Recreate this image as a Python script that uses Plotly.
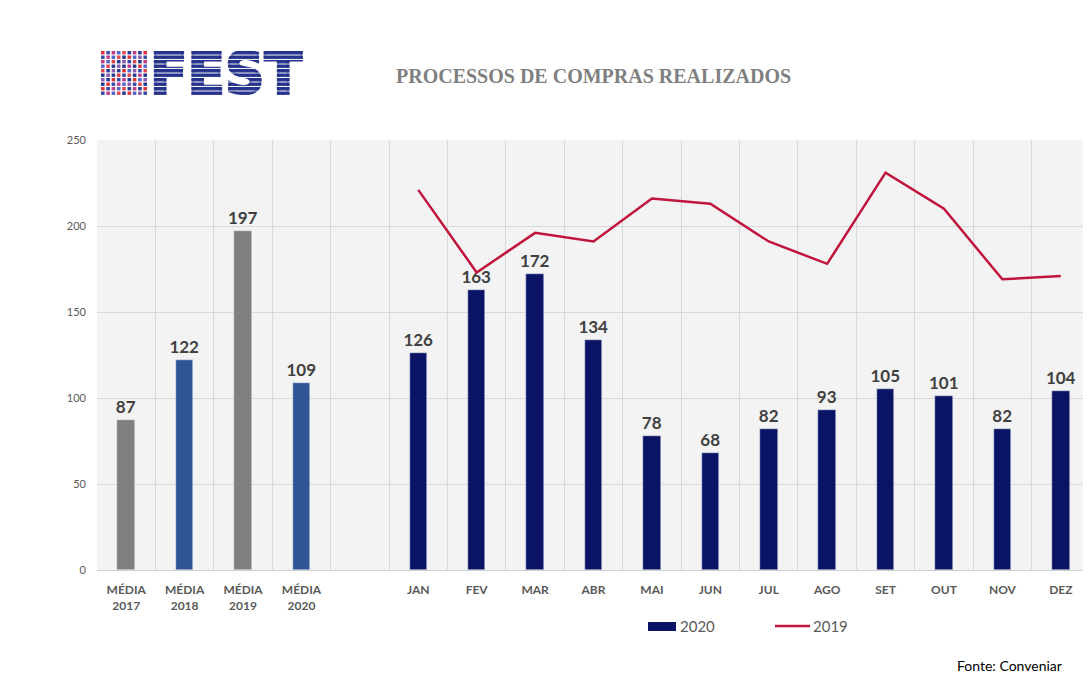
import base64
import plotly.graph_objects as go

media_labels = ["MÉDIA<br>2017", "MÉDIA<br>2018", "MÉDIA<br>2019", "MÉDIA<br>2020"]
media_values = [87, 122, 197, 109]
media_colors = ["#7F7F7F", "#2F5597", "#7F7F7F", "#2F5597"]

months = ["JAN", "FEV", "MAR", "ABR", "MAI", "JUN", "JUL", "AGO", "SET", "OUT", "NOV", "DEZ"]
values_2020 = [126, 163, 172, 134, 78, 68, 82, 93, 105, 101, 82, 104]
values_2019 = [221, 173, 196, 191, 216, 213, 191, 178, 231, 210, 169, 171]

y_ticks = [0, 50, 100, 150, 200, 250]

media_x = list(range(len(media_labels)))
gap = 1
month_x = [len(media_labels) + gap + i for i in range(len(months))]
n_cat = len(media_labels) + gap + len(months)

FONT = "Lato, 'Open Sans', sans-serif"
LABEL_FONT = dict(family=FONT, size=17, color="#404040", weight="bold")
NAVY = "#0B1464"
RED = "#C0143C"

W, H = 1083, 675
ML, MR, MT, MB = 89, 1, 132, 113
PW = W - ML - MR
PH = H - MT - MB
OFF = 8  # page body margin


def px(sx, sy):
    """screen pixel -> paper coords"""
    return (sx - OFF - ML) / PW, (H - MB - (sy - OFF)) / PH


fig = go.Figure()
fig.add_trace(go.Bar(
    x=media_x, y=media_values, marker_color=media_colors, width=0.3,
    text=media_values, textposition="outside", textfont=LABEL_FONT,
    cliponaxis=False, showlegend=False, hoverinfo="skip",
))
fig.add_trace(go.Bar(
    x=month_x, y=values_2020, marker_color=NAVY, width=0.3, name="2020",
    text=values_2020, textposition="outside", textfont=LABEL_FONT,
    cliponaxis=False, showlegend=False,
))
fig.add_trace(go.Scatter(
    x=month_x, y=values_2019, mode="lines", name="2019",
    line=dict(color=RED, width=2.5), showlegend=False,
))

annotations = []
shapes = []


def ann(text, sx, sy, font, xanchor="center"):
    x, y = px(sx, sy)
    annotations.append(dict(text=text, x=x, y=y, xref="paper", yref="paper",
                            showarrow=False, font=font, xanchor=xanchor, yanchor="middle"))


ann("PROCESSOS DE COMPRAS REALIZADOS", 593, 76,
    dict(family="'Liberation Serif', 'DejaVu Serif', serif", size=20, color="#7F7F7F", weight="bold"))
ann("Fonte: Conveniar", 1064, 665, dict(family=FONT, size=14, color="#000000"), xanchor="right")

# custom legend
x0, y0 = px(648, 631)
x1, y1 = px(676, 622)
shapes.append(dict(type="rect", xref="paper", yref="paper", x0=x0, x1=x1, y0=y0, y1=y1,
                   fillcolor=NAVY, line=dict(width=0)))
ann("2020", 678, 626, dict(family=FONT, size=15, color="#595959"), xanchor="left")
x0, y0 = px(775, 626)
x1, _ = px(810, 626)
shapes.append(dict(type="line", xref="paper", yref="paper", x0=x0, x1=x1, y0=y0, y1=y0,
                   line=dict(color=RED, width=2.5)))
ann("2019", 811, 626, dict(family=FONT, size=15, color="#595959"), xanchor="left")

# Logo as inline SVG
logo_w, logo_h = 206, 46
cols = []
palette = ["#E0343C", "#3A48A8", "#C23A8A", "#5566C8", "#E04850", "#2B3990", "#8A5AB0", "#2B3990"]
for i in range(9):
    for j in range(10):
        cols.append('<rect x="%.1f" y="%.1f" width="3.6" height="3.4" fill="%s"/>'
                    % (2 + i * 5.3, 1 + j * 4.5, palette[(i + j) % len(palette)] if i < 5 else palette[(i * 3 + j) % len(palette)]))
svg = (
    '<svg xmlns="http://www.w3.org/2000/svg" width="%d" height="%d" viewBox="0 0 %d %d">'
    '<defs><pattern id="st" x="0" y="1" width="8" height="4.5" patternUnits="userSpaceOnUse">'
    '<rect width="8" height="3.5" fill="#26338C"/></pattern></defs>'
    '%s'
    '<text x="51" y="44" font-family="DejaVu Sans" font-weight="bold" font-size="57" '
    'textLength="152" lengthAdjust="spacingAndGlyphs" fill="url(#st)" '
    'stroke="url(#st)" stroke-width="2.5">FEST</text>'
    '</svg>' % (logo_w, logo_h, logo_w, logo_h, "".join(cols))
)
src = "data:image/svg+xml;base64," + base64.b64encode(svg.encode()).decode()
lx, ly = px(99, 50)
lx2, ly2 = px(99 + logo_w, 50 + logo_h)
images = [dict(source=src, xref="paper", yref="paper", x=lx, y=ly,
               sizex=lx2 - lx, sizey=ly - ly2, xanchor="left", yanchor="top",
               sizing="stretch", layer="above")]

fig.update_layout(
    width=W, height=H,
    paper_bgcolor="white", plot_bgcolor="#F3F3F3",
    margin=dict(l=ML, r=MR, t=MT, b=MB),
    font=dict(family=FONT, color="#595959"),
    bargap=0,
    showlegend=False,
    uniformtext=dict(minsize=17, mode="show"),
    xaxis=dict(
        range=[-0.5, n_cat - 0.5],
        tickvals=media_x + month_x,
        ticktext=media_labels + months,
        tickfont=dict(size=12, color="#595959", weight="bold"),
        showgrid=False, zeroline=False, ticks="",
        ticklabelstandoff=9,
        showline=True, linecolor="#D0D0D0",
        minor=dict(tickvals=[i + 0.5 for i in range(-1, n_cat)], showgrid=True,
                   gridcolor="#D9D9D9", gridwidth=1, ticks=""),
    ),
    yaxis=dict(
        range=[0, 250], tickvals=y_ticks,
        tickfont=dict(size=11, color="#595959"),
        showgrid=True, gridcolor="#D9D9D9", gridwidth=1, zeroline=False,
        ticks="", ticklabelstandoff=10,
    ),
    annotations=annotations,
    shapes=shapes,
    images=images,
)

fig.write_html("out.html")
